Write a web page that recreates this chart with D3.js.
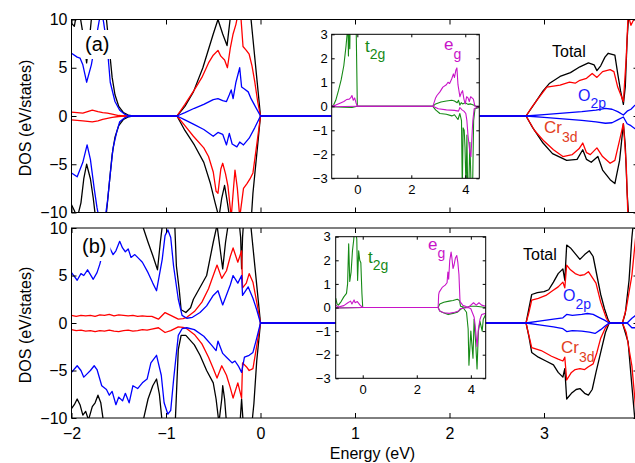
<!DOCTYPE html>
<html>
<head>
<meta charset="utf-8">
<script src="https://cdn.jsdelivr.net/npm/d3@7"></script>
<style>
  body { margin: 0; background: #fff; }
  svg text { font-family: "Liberation Sans", Arial, sans-serif; }
</style>
</head>
<body>
<svg id="chart" width="635" height="463"></svg>
<script>
// Ticks ////////////////////////////////////////////////////////////////
var mainXTicks = [-2, -1, 0, 1, 2, 3, 4];
var mainXLabels = ["−2", "−1", "0", "1", "2", "3", ""];
var mainYTicks = [-10, -5, 0, 5, 10];
var insetXTicks = [0, 2, 4];
var insetYTicks = [-3, -2, -1, 0, 1, 2, 3];

// Panel (a) : [energy, DOS] //////////////////////////////////////////////
var aTotalUp = [[-2,9.6],[-1.97,9.3],[-1.95,10.4],[-1.92,11],[-1.87,8],[-1.84,5.5],[-1.81,8],[-1.78,11],[-1.7,13],[-1.66,12],[-1.63,10],[-1.6,7],[-1.57,4.0],[-1.54,2.2],[-1.5,1.0],[-1.45,0.35],[-1.4,0.1],[-1.35,0],
  [-0.884,0],[-0.8,1.0],[-0.71,2.5],[-0.61,5.0],[-0.5,8.5],[-0.45,10],[-0.4,8.5],[-0.354,7.3],[-0.31,11],[-0.26,14],[-0.15,14],[-0.11,11],[-0.08,8],[-0.04,4],[0,0],
  [2.81,0],[2.88,1.0],[2.99,2.6],[3.06,3.4],[3.17,4.1],[3.28,4.5],[3.38,5.1],[3.47,5.5],[3.53,5.3],[3.56,4.7],[3.6,5.2],[3.645,6.1],[3.68,6.5],[3.75,6.3],[3.78,4.4],[3.81,2.6],[3.84,1.2],[3.86,3.0],[3.88,8],[3.9,11],[4,14]];
var aTotalDn = [[-2,-9.2],[-1.97,-9.8],[-1.94,-10.6],[-1.9,-9],[-1.87,-6.5],[-1.84,-5.0],[-1.8,-6.5],[-1.77,-8.5],[-1.74,-11],[-1.66,-12],[-1.63,-10],[-1.6,-7],[-1.57,-4.0],[-1.54,-2.2],[-1.5,-1.0],[-1.45,-0.35],[-1.4,-0.1],[-1.35,0],
  [-0.884,0],[-0.8,-1.5],[-0.7,-3.0],[-0.6,-4.8],[-0.53,-7.0],[-0.48,-9.0],[-0.44,-10.5],[-0.41,-8.5],[-0.38,-7.2],[-0.35,-9],[-0.32,-11],[-0.2,-12],[-0.1,-11],[-0.08,-8],[-0.04,-4],[0,0],
  [2.81,0],[2.88,-1.2],[2.99,-2.8],[3.09,-3.9],[3.24,-4.6],[3.35,-4.5],[3.41,-3.5],[3.45,-4.5],[3.5,-4.8],[3.57,-4.2],[3.62,-5.6],[3.7,-6.6],[3.75,-7.0],[3.8,-4.6],[3.84,-0.8],[3.86,-3],[3.88,-8],[3.9,-11],[4,-13]];
var aCrUp = [[-2,0.4],[-1.94,0.35],[-1.88,0.3],[-1.83,0.45],[-1.78,0.6],[-1.72,0.45],[-1.67,0.35],[-1.62,0.3],[-1.57,0.2],[-1.5,0.05],[-1.45,0],
  [-0.884,0],[-0.8,1.2],[-0.7,2.7],[-0.62,4.0],[-0.55,5.5],[-0.5,6.3],[-0.45,6.8],[-0.42,6.2],[-0.38,5.8],[-0.35,5.0],[-0.32,7.0],[-0.29,8.5],[-0.26,9.5],[-0.24,10.5],[-0.21,10.6],[-0.185,7.2],[-0.15,6.8],[-0.12,6.4],[-0.09,5.2],[-0.06,3.5],[-0.03,1.5],[0,0],
  [2.81,0],[2.87,0.9],[2.93,1.7],[3.03,3.0],[3.1,3.1],[3.17,3.2],[3.27,3.5],[3.33,3.4],[3.38,3.7],[3.45,3.9],[3.51,4.4],[3.56,4.0],[3.62,4.6],[3.7,4.8],[3.74,4.6],[3.78,3.0],[3.84,1.5],[3.87,6],[3.89,10.5],[3.92,9.4],[3.95,10],[4,10.5]];
var aCrDn = [[-2,-0.4],[-1.94,-0.45],[-1.88,-0.5],[-1.83,-0.55],[-1.78,-0.6],[-1.72,-0.5],[-1.67,-0.35],[-1.62,-0.25],[-1.57,-0.15],[-1.5,-0.05],[-1.45,0],
  [-0.884,0],[-0.8,-1.0],[-0.71,-2.1],[-0.6,-3.3],[-0.55,-4.2],[-0.5,-5.8],[-0.47,-7.8],[-0.45,-8.0],[-0.42,-5.5],[-0.4,-4.9],[-0.37,-6.0],[-0.344,-7.3],[-0.31,-10.5],[-0.29,-8],[-0.27,-5.6],[-0.245,-7.5],[-0.22,-10.5],[-0.2,-9],[-0.18,-7.5],[-0.143,-7.0],[-0.11,-6.5],[-0.08,-5.9],[-0.04,-3.0],[0,0],
  [2.81,0],[2.9,-1.5],[3.0,-2.6],[3.1,-3.5],[3.2,-4.2],[3.3,-4.0],[3.37,-3.4],[3.41,-2.8],[3.45,-3.8],[3.49,-4.0],[3.56,-3.3],[3.62,-4.2],[3.7,-4.9],[3.75,-4.6],[3.8,-2.5],[3.84,-0.8],[3.87,-5],[3.89,-11],[4,-12]];
var aO2pUp = [[-2,6.5],[-1.94,6.1],[-1.91,6.0],[-1.88,5.3],[-1.84,3.5],[-1.79,5.3],[-1.75,7.5],[-1.71,9.7],[-1.685,11],[-1.66,9.7],[-1.62,7.0],[-1.59,3.5],[-1.54,1.5],[-1.49,0.6],[-1.44,0.2],[-1.4,0.05],[-1.35,0],
  [-0.884,0],[-0.8,0.35],[-0.7,0.8],[-0.6,1.2],[-0.5,1.7],[-0.45,1.8],[-0.4,1.6],[-0.36,1.5],[-0.33,2.2],[-0.31,2.7],[-0.29,1.8],[-0.26,3.5],[-0.22,5.0],[-0.2,3.0],[-0.17,2.8],[-0.13,2.5],[-0.1,1.8],[-0.05,0.9],[0,0],
  [2.81,0],[3.0,0.15],[3.2,0.3],[3.4,0.45],[3.55,0.6],[3.65,0.8],[3.72,0.7],[3.78,0.45],[3.84,0.1],[3.88,0.5],[3.92,0.7],[3.96,1.1],[4,1.2]];
var aO2pDn = [[-2,-5.9],[-1.94,-6.3],[-1.88,-4.8],[-1.835,-3.0],[-1.8,-4.5],[-1.76,-7.5],[-1.73,-9.5],[-1.7,-11],[-1.65,-11],[-1.62,-8.9],[-1.59,-6],[-1.56,-3.3],[-1.52,-1.6],[-1.49,-0.6],[-1.44,-0.2],[-1.4,-0.05],[-1.35,0],
  [-0.884,0],[-0.8,-0.4],[-0.7,-0.9],[-0.6,-1.4],[-0.5,-2.1],[-0.45,-1.7],[-0.4,-1.9],[-0.36,-3.0],[-0.33,-1.8],[-0.3,-2.9],[-0.25,-3.2],[-0.22,-2.7],[-0.18,-3.0],[-0.12,-2.3],[-0.06,-1.2],[0,0],
  [2.81,0],[3.0,-0.15],[3.2,-0.3],[3.4,-0.45],[3.55,-0.6],[3.65,-0.75],[3.72,-0.7],[3.78,-0.4],[3.84,-0.1],[3.88,-0.8],[3.92,-1.0],[3.96,-1.3],[4,-1.2]];

// Panel (b) //////////////////////////////////////////////////////////////
var bTotalUp = [[-2,12],[-1.5,13],[-1.3,12],[-1.24,10],[-1.19,8.5],[-1.14,7.1],[-1.09,5.6],[-1.06,8.5],[-1.03,11],[-0.95,13],[-0.91,11],[-0.89,6],[-0.86,3.5],[-0.84,1.4],[-0.79,1.1],[-0.74,1.6],[-0.71,2.5],[-0.57,5.0],[-0.5,8.5],[-0.46,10.3],[-0.43,8],[-0.4,5.7],[-0.37,8.5],[-0.34,10.5],[-0.3,13],[-0.24,12],[-0.21,9],[-0.2,5.7],[-0.19,9],[-0.17,12],[-0.12,12],[-0.09,9],[-0.06,6],[-0.03,3],[0,0],
  [2.81,0],[2.84,1.5],[2.87,3.0],[2.93,3.2],[3.0,3.3],[3.05,3.5],[3.1,4.3],[3.15,5.2],[3.2,5.7],[3.22,4.5],[3.24,8.2],[3.28,7.9],[3.33,7.3],[3.38,6.7],[3.43,7.2],[3.48,7.6],[3.52,7.0],[3.55,5.5],[3.6,3.0],[3.64,1.5],[3.68,0.3],[3.7,0],[3.83,0],[3.86,1.0],[3.9,4.5],[3.93,9],[3.96,12],[4,14]];
var bTotalDn = [[-2,-9.0],[-1.97,-8.6],[-1.94,-8.0],[-1.91,-8.6],[-1.88,-9.7],[-1.85,-9.3],[-1.82,-10.2],[-1.78,-8.8],[-1.75,-8.4],[-1.72,-7.6],[-1.69,-8.4],[-1.66,-10.5],[-1.62,-12],[-1.3,-12],[-1.24,-10.2],[-1.19,-8.0],[-1.14,-6.6],[-1.1,-5.9],[-1.07,-7.5],[-1.04,-10.5],[-1.0,-12],[-0.93,-12],[-0.9,-10],[-0.87,-2.8],[-0.84,-1.3],[-0.79,-1.3],[-0.7,-2.3],[-0.64,-3.4],[-0.57,-5.0],[-0.5,-6.3],[-0.47,-8],[-0.44,-10.5],[-0.41,-8],[-0.4,-6.6],[-0.38,-8],[-0.36,-10.5],[-0.3,-12],[-0.22,-11],[-0.2,-8],[-0.18,-11],[-0.1,-11.5],[-0.07,-8.5],[-0.04,-4],[0,0],
  [2.81,0],[2.84,-1.4],[2.87,-3.1],[2.94,-3.6],[3.02,-4.0],[3.1,-4.4],[3.15,-5.2],[3.2,-5.7],[3.22,-4.8],[3.24,-8.0],[3.29,-7.4],[3.34,-7.0],[3.38,-6.9],[3.43,-7.4],[3.47,-7.6],[3.51,-7.0],[3.55,-5.2],[3.6,-3.1],[3.65,-1.0],[3.69,0],[3.83,0],[3.86,-1.0],[3.89,-2.0],[3.93,-6.6],[3.96,-10],[4,-13]];
var bCrUp = [[-2,0.8],[-1.95,0.7],[-1.9,0.8],[-1.85,0.75],[-1.8,0.8],[-1.75,0.7],[-1.7,0.85],[-1.65,0.8],[-1.6,0.9],[-1.55,0.75],[-1.5,0.85],[-1.45,0.8],[-1.4,0.75],[-1.35,0.8],[-1.3,0.7],[-1.25,0.75],[-1.2,0.7],[-1.15,0.7],[-1.08,0.4],[-1.01,1.1],[-0.95,0.8],[-0.87,0.4],[-0.82,0.45],[-0.78,0.6],[-0.7,1.2],[-0.62,2.2],[-0.55,3.6],[-0.5,5.0],[-0.46,6.1],[-0.41,4.7],[-0.36,5.5],[-0.32,7.0],[-0.29,7.9],[-0.24,6.4],[-0.2,7.6],[-0.19,3.7],[-0.15,4.2],[-0.12,5.2],[-0.08,4.3],[-0.04,2.2],[0,0],
  [2.81,0],[2.84,1.1],[2.87,2.4],[2.94,2.6],[3.02,2.9],[3.09,3.4],[3.15,3.8],[3.2,4.3],[3.22,3.7],[3.24,6.1],[3.28,5.6],[3.33,5.2],[3.38,5.0],[3.43,5.1],[3.47,5.4],[3.51,4.8],[3.55,4.2],[3.6,2.2],[3.66,0.5],[3.69,0],[3.83,0],[3.87,1.5],[3.93,5.0],[3.97,9],[4,11]];
var bCrDn = [[-2,-0.7],[-1.95,-0.8],[-1.9,-0.75],[-1.85,-0.85],[-1.8,-0.8],[-1.75,-0.9],[-1.7,-0.8],[-1.65,-0.85],[-1.6,-0.75],[-1.55,-0.85],[-1.5,-0.9],[-1.45,-0.8],[-1.4,-0.75],[-1.35,-0.85],[-1.3,-0.8],[-1.25,-0.7],[-1.2,-0.75],[-1.15,-0.65],[-1.08,-0.5],[-1.01,-1.0],[-0.95,-0.8],[-0.87,-0.4],[-0.82,-0.45],[-0.78,-0.6],[-0.7,-1.2],[-0.62,-2.2],[-0.55,-3.6],[-0.5,-4.8],[-0.46,-5.8],[-0.41,-4.5],[-0.36,-5.5],[-0.32,-6.8],[-0.29,-7.9],[-0.24,-6.3],[-0.2,-7.9],[-0.19,-4.2],[-0.15,-4.6],[-0.12,-5.0],[-0.08,-4.8],[-0.04,-2.4],[0,0],
  [2.81,0],[2.84,-1.3],[2.87,-2.6],[2.97,-2.9],[3.08,-3.5],[3.15,-3.8],[3.2,-4.0],[3.22,-3.6],[3.24,-6.0],[3.29,-5.2],[3.33,-4.9],[3.38,-4.8],[3.43,-4.9],[3.47,-4.6],[3.52,-4.3],[3.56,-3.1],[3.6,-1.6],[3.65,-0.5],[3.69,0],[3.83,0],[3.87,-1.0],[3.93,-4.5],[3.97,-9],[4,-11]];
var bO2pUp = [[-2,5.3],[-1.97,4.9],[-1.94,4.5],[-1.9,5.2],[-1.87,5.0],[-1.83,5.6],[-1.8,5.1],[-1.77,4.6],[-1.73,5.3],[-1.7,6.2],[-1.66,7.8],[-1.62,8.4],[-1.56,7.2],[-1.53,7.6],[-1.49,8.6],[-1.46,7.9],[-1.43,7.5],[-1.4,7.8],[-1.37,6.9],[-1.33,7.2],[-1.29,6.8],[-1.25,6.4],[-1.19,5.3],[-1.14,4.2],[-1.1,3.4],[-1.04,6.7],[-1.01,9.2],[-0.98,9.8],[-0.95,9.0],[-0.92,6.0],[-0.87,2.5],[-0.83,0.8],[-0.78,0.5],[-0.72,0.6],[-0.64,1.1],[-0.57,1.8],[-0.5,2.9],[-0.45,3.4],[-0.4,1.9],[-0.35,3.2],[-0.32,4.0],[-0.29,5.0],[-0.24,4.2],[-0.2,5.0],[-0.19,2.9],[-0.13,3.8],[-0.08,2.6],[-0.04,1.4],[0,0],
  [2.81,0],[2.95,0.2],[3.1,0.4],[3.2,0.55],[3.24,0.9],[3.3,0.8],[3.4,0.9],[3.46,1.0],[3.52,0.9],[3.58,0.6],[3.64,0.3],[3.69,0],[3.88,0],[3.93,0.5],[3.97,0.8],[4,1.0]];
var bO2pDn = [[-2,-5.2],[-1.94,-4.5],[-1.9,-5.0],[-1.87,-5.7],[-1.83,-5.3],[-1.8,-5.0],[-1.76,-4.5],[-1.73,-4.9],[-1.68,-6.6],[-1.63,-7.0],[-1.6,-7.6],[-1.57,-7.2],[-1.53,-8.6],[-1.5,-7.8],[-1.46,-8.2],[-1.43,-7.4],[-1.39,-8.4],[-1.35,-6.6],[-1.3,-6.9],[-1.25,-6.3],[-1.2,-5.9],[-1.16,-4.2],[-1.1,-3.4],[-1.05,-5.5],[-1.02,-8.4],[-0.98,-9.6],[-0.95,-9.2],[-0.92,-6.0],[-0.87,-1.3],[-0.83,-0.6],[-0.78,-0.5],[-0.7,-0.7],[-0.6,-1.4],[-0.52,-2.3],[-0.47,-2.9],[-0.45,-1.9],[-0.4,-3.2],[-0.36,-3.6],[-0.3,-4.2],[-0.27,-4.0],[-0.23,-4.6],[-0.2,-5.2],[-0.17,-3.6],[-0.12,-3.4],[-0.08,-3.1],[-0.04,-1.6],[0,0],
  [2.81,0],[2.95,-0.2],[3.1,-0.4],[3.2,-0.6],[3.24,-0.9],[3.3,-0.8],[3.4,-0.85],[3.48,-0.95],[3.54,-1.1],[3.6,-0.7],[3.65,-0.3],[3.69,0],[3.88,0],[3.93,-0.5],[3.97,-0.5],[4,-0.6]];

// Insets: t2g and eg ///////////////////////////////////////////////////
var iaT2gUp = [[-0.95,0],[-0.88,0.05],[-0.8,0.25],[-0.7,0.65],[-0.6,1.1],[-0.5,1.7],[-0.42,2.5],[-0.38,3.0],[-0.35,3.6],[-0.33,2.1],[-0.31,3.6],[-0.28,2.4],[-0.26,3.8],[-0.15,3.8],[-0.05,3.8],[-0.02,1.5],[0,0],
  [2.8,0],[2.9,0.1],[3.1,0.18],[3.3,0.22],[3.5,0.25],[3.6,0.22],[3.7,0.15],[3.75,0.25],[3.8,0.05],[3.85,0.15],[3.9,0.1],[4.0,0.15],[4.1,0.08],[4.2,0.1],[4.3,0.05],[4.4,0],[4.52,0]];
var iaT2gDn = [[-0.95,-0.02],[-0.5,-0.04],[-0.2,-0.05],[0,0],
  [2.8,0],[2.9,-0.15],[3.06,-0.3],[3.3,-0.33],[3.5,-0.4],[3.6,-0.35],[3.73,-0.55],[3.8,-0.3],[3.86,-0.6],[3.89,-3.5],[3.92,-0.9],[3.96,-1.0],[3.99,-1.7],[4.03,-3.5],[4.06,-1.2],[4.09,-3.5],[4.13,-3.5],[4.17,-1.5],[4.22,-3.5],[4.27,-3.5],[4.31,-0.6],[4.36,-0.1],[4.52,-0.05]];
var iaEgUp = [[-0.95,0],[-0.8,0.05],[-0.6,0.15],[-0.5,0.2],[-0.4,0.28],[-0.3,0.3],[-0.25,0.35],[-0.2,0.45],[-0.15,0.25],[-0.1,0.35],[-0.05,0.15],[0,0],
  [2.8,0],[2.9,0.35],[2.95,0.45],[3.06,0.6],[3.17,0.8],[3.3,0.9],[3.36,1.0],[3.42,0.95],[3.5,1.15],[3.56,1.35],[3.6,1.2],[3.65,1.5],[3.69,1.6],[3.73,0.9],[3.8,0.4],[3.85,0.55],[3.9,0.65],[3.95,0.3],[4.0,0.1],[4.05,0.4],[4.1,0.35],[4.15,0.2],[4.2,0.4],[4.25,0.35],[4.3,0.3],[4.36,0],[4.52,0]];
var iaEgDn = [[-0.95,-0.02],[0,0],
  [2.8,0],[3.0,-0.1],[3.3,-0.15],[3.6,-0.17],[3.75,-0.2],[3.8,-0.05],[3.88,-0.15],[3.95,-0.2],[4.02,-0.3],[4.06,-0.6],[4.1,-1.2],[4.17,-1.9],[4.21,-2.1],[4.25,-1.2],[4.28,-0.6],[4.33,-0.1],[4.52,0]];

var ibT2gUp = [[-1,0.4],[-0.95,0.15],[-0.9,0.1],[-0.8,0.25],[-0.7,0.45],[-0.6,0.6],[-0.56,1.0],[-0.52,2.7],[-0.48,1.1],[-0.43,1.5],[-0.38,2.4],[-0.33,2.9],[-0.3,3.4],[-0.26,3.2],[-0.22,2.9],[-0.19,1.15],[-0.15,2.4],[-0.11,2.0],[-0.07,1.9],[-0.03,0.6],[0,0],
  [2.79,0],[2.85,0.15],[3.0,0.22],[3.2,0.27],[3.34,0.3],[3.5,0.35],[3.58,0.3],[3.62,0.05],[3.8,0],[4.0,0.05],[4.2,0.05],[4.55,0]];
var ibT2gDn = [[-1,-0.02],[0,0],
  [2.79,0],[2.85,-0.15],[2.94,-0.2],[3.16,-0.3],[3.34,-0.25],[3.5,-0.2],[3.6,-0.1],[3.71,0],[3.84,-0.2],[3.9,-0.9],[3.93,-2.45],[3.97,-1.6],[4.0,-1.0],[4.08,-2.15],[4.12,-0.5],[4.18,-1.5],[4.23,-2.6],[4.28,-1.0],[4.34,-0.6],[4.42,-1.0],[4.46,-0.5],[4.55,-0.3]];
var ibEgUp = [[-1,0.1],[-0.9,0.02],[-0.7,0.08],[-0.55,0.2],[-0.45,0.27],[-0.4,0.15],[-0.32,0.32],[-0.28,0.2],[-0.2,0.25],[-0.1,0.1],[0,0],
  [2.79,0],[2.81,0.55],[2.83,0.65],[2.94,0.85],[3.05,0.95],[3.12,1.05],[3.15,1.5],[3.18,1.2],[3.22,2.0],[3.27,2.35],[3.3,2.1],[3.34,1.65],[3.38,1.8],[3.43,2.1],[3.48,2.2],[3.52,1.9],[3.56,1.4],[3.6,0.25],[3.7,0.1],[3.8,0.05],[3.9,0],[4.0,0.1],[4.1,0.2],[4.2,0.1],[4.3,0.2],[4.4,0.1],[4.55,0.05]];
var ibEgDn = [[-1,-0.02],[0,0],
  [2.79,0],[2.85,-0.15],[3.0,-0.22],[3.2,-0.25],[3.4,-0.2],[3.55,-0.15],[3.6,-0.05],[3.9,0],[4.0,-0.05],[4.05,-0.2],[4.12,-0.4],[4.16,-0.75],[4.23,-1.65],[4.28,-0.9],[4.34,-0.5],[4.4,-0.3],[4.55,-0.25]];

// Colours
var cTotal = "#000000", cCr = "#ff0000", cO = "#0000ff", cT2g = "#168a16", cEg = "#c814c8";

var svg = d3.select("#chart");
var numFmt = d3.format("~g");

// Draws a framed box of curves, with inward ticks on all four sides
function drawPanel(cfg) {
    var x = d3.scaleLinear().domain(cfg.xDom).range([cfg.left, cfg.right]);
    var y = d3.scaleLinear().domain(cfg.yDom).range([cfg.bottom, cfg.top]);
    var w = cfg.right - cfg.left, h = cfg.bottom - cfg.top;
    var g = svg.append("g");

    g.append("rect")
        .attr("x", cfg.left).attr("y", cfg.top)
        .attr("width", w).attr("height", h)
        .attr("fill", "#fff");

    g.append("clipPath").attr("id", "clip-" + cfg.id)
        .append("rect")
            .attr("x", cfg.left).attr("y", cfg.top)
            .attr("width", w).attr("height", h);

    var line = d3.line()
        .x(function(d) { return x(d[0]) })
        .y(function(d) { return y(d[1]) });

    var plot = g.append("g").attr("clip-path", "url(#clip-" + cfg.id + ")");
    cfg.series.forEach(function(s) {
        plot.append("path")
            .datum(s.data)
            .attr("d", line)
            .attr("fill", "none")
            .attr("stroke", s.color)
            .attr("stroke-width", cfg.lw)
            .attr("stroke-linejoin", "round");
    });

    // Axes
    var bottom = d3.axisBottom(x).tickValues(cfg.xTicks).tickSize(-cfg.tick).tickPadding(cfg.xPad);
    if (cfg.xFormat) bottom.tickFormat(cfg.xFormat);
    else bottom.tickFormat("");
    g.append("g").attr("transform", "translate(0," + cfg.bottom + ")").call(bottom);
    g.append("g").attr("transform", "translate(0," + cfg.top + ")")
        .call(d3.axisTop(x).tickValues(cfg.xTicks).tickSize(-cfg.tick).tickFormat(""));
    g.append("g").attr("transform", "translate(" + cfg.left + ",0)")
        .call(d3.axisLeft(y).tickValues(cfg.yTicks).tickSize(-cfg.tick).tickPadding(cfg.yPad).tickFormat(numFmt));
    g.append("g").attr("transform", "translate(" + cfg.right + ",0)")
        .call(d3.axisRight(y).tickValues(cfg.yTicks).tickSize(-cfg.tick).tickFormat(""));

    g.selectAll(".domain").remove();
    g.selectAll(".tick line").attr("stroke", "#000");
    g.selectAll(".tick text")
        .attr("fill", "#000")
        .style("font-family", '"Liberation Sans", Arial, sans-serif')
        .style("font-size", cfg.fs + "px");

    g.append("rect")
        .attr("x", cfg.left).attr("y", cfg.top)
        .attr("width", w).attr("height", h)
        .attr("fill", "none")
        .attr("stroke", "#000")
        .attr("stroke-width", 1);
    return g;
}

function label(x, y, main, sub, color, size, subSize, subDy) {
    var t = svg.append("text")
        .attr("x", x).attr("y", y)
        .attr("fill", color)
        .style("font-size", size + "px")
        .text(main);
    if (sub) t.append("tspan").attr("dy", subDy).style("font-size", subSize + "px").text(sub);
    return t;
}

function boxedLabel(x, y, str, size) {
    var t = label(x, y, str, null, "#000", size);
    var b = t.node().getBBox();
    svg.insert("rect", function() { return t.node() })
        .attr("x", b.x - 4).attr("y", b.y - 3)
        .attr("width", b.width + 8).attr("height", b.height + 7)
        .attr("fill", "#fff");
}

function mainSeries(tu, td, cu, cd, ou, od) {
    return [
        {data: tu, color: cTotal}, {data: td, color: cTotal},
        {data: cu, color: cCr}, {data: cd, color: cCr},
        {data: ou, color: cO}, {data: od, color: cO}
    ];
}

// Panel (a)
drawPanel({id: "a", left: 71.5, right: 638.5, top: 19.5, bottom: 212.5,
    xDom: [-2, 4], yDom: [-10, 10], xTicks: mainXTicks, yTicks: mainYTicks,
    tick: 5, xPad: 10, yPad: 4, fs: 16, lw: 1.3, xFormat: null,
    series: mainSeries(aTotalUp, aTotalDn, aCrUp, aCrDn, aO2pUp, aO2pDn)});

// Panel (b)
drawPanel({id: "b", left: 71.5, right: 638.5, top: 228, bottom: 418,
    xDom: [-2, 4], yDom: [-10, 10], xTicks: mainXTicks, yTicks: mainYTicks,
    tick: 5, xPad: 10, yPad: 4, fs: 16, lw: 1.3,
    xFormat: function(d, i) { return mainXLabels[i] },
    series: mainSeries(bTotalUp, bTotalDn, bCrUp, bCrDn, bO2pUp, bO2pDn)});

// Insets
drawPanel({id: "ia", left: 331.7, right: 479.3, top: 34.3, bottom: 178.3,
    xDom: [-0.95, 4.52], yDom: [-3, 3], xTicks: insetXTicks, yTicks: insetYTicks,
    tick: 3, xPad: 6, yPad: 4, fs: 13, lw: 1.1, xFormat: numFmt,
    series: [{data: iaT2gUp, color: cT2g}, {data: iaT2gDn, color: cT2g},
             {data: iaEgUp, color: cEg}, {data: iaEgDn, color: cEg}]});

drawPanel({id: "ib", left: 335.7, right: 485.7, top: 236.7, bottom: 378.3,
    xDom: [-1.0, 4.55], yDom: [-3, 3], xTicks: insetXTicks, yTicks: insetYTicks,
    tick: 3, xPad: 6, yPad: 5, fs: 13, lw: 1.1, xFormat: numFmt,
    series: [{data: ibT2gUp, color: cT2g}, {data: ibT2gDn, color: cT2g},
             {data: ibEgUp, color: cEg}, {data: ibEgDn, color: cEg}]});

// Axis titles
svg.append("text")
    .attr("transform", "translate(31,118) rotate(-90)")
    .attr("text-anchor", "middle")
    .style("font-size", "16px")
    .text("DOS (eV/states)");
svg.append("text")
    .attr("transform", "translate(31,325) rotate(-90)")
    .attr("text-anchor", "middle")
    .style("font-size", "16px")
    .text("DOS (eV/states)");
svg.append("text")
    .attr("x", 372.5).attr("y", 459)
    .attr("text-anchor", "middle")
    .style("font-size", "16px")
    .text("Energy (eV)");

// Panel tags and curve labels
boxedLabel(85, 51, "(a)", 20);
boxedLabel(82, 253, "(b)", 20);

label(552, 57, "Total", null, "#000", 16);
label(578, 101, "O", "2p", "#1c1cff", 16, 14, 7);
label(544, 133, "Cr", "3d", "#e2401e", 17, 14, 9);
label(365, 52, "t", "2g", cT2g, 17, 14, 7);
label(444, 50, "e", "g", cEg, 17, 14, 9);

label(523, 260, "Total", null, "#000", 16);
label(563, 301, "O", "2p", "#1c1cff", 16, 14, 8);
label(561, 353, "Cr", "3d", "#e2401e", 17, 14, 9);
label(368, 263, "t", "2g", cT2g, 17, 14, 7);
label(428, 250, "e", "g", cEg, 17, 14, 8);
</script>
</body>
</html>
